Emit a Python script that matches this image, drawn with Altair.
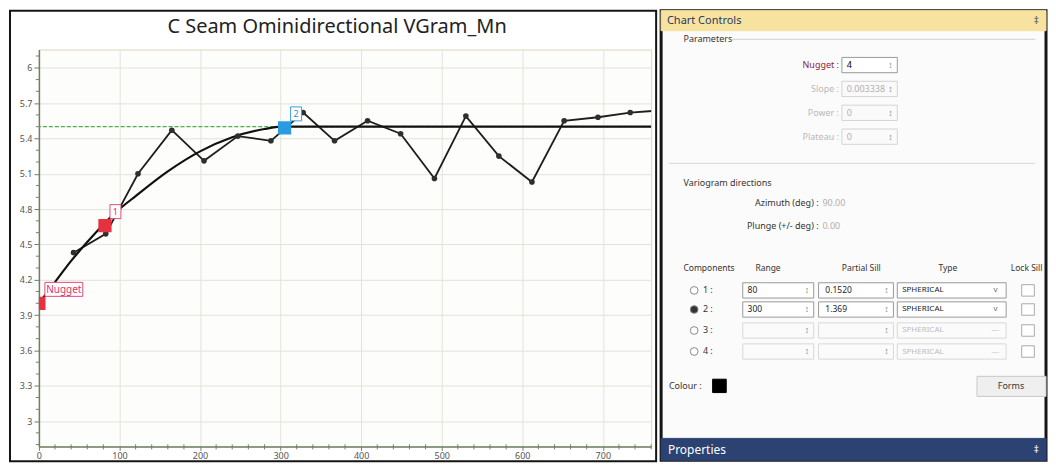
import altair as alt
import pandas as pd

# ---------------- data ----------------
title_text = "C Seam Ominidirectional VGram_Mn"

# experimental variogram (lag, gamma)
lag = [43, 83, 123, 165, 205, 247, 288, 328, 367, 408, 449, 491, 530, 571, 612, 652, 694, 734, 775]
gamma = [4.43, 4.59, 5.10, 5.47, 5.21, 5.42, 5.38, 5.62, 5.38, 5.55, 5.44, 5.06, 5.59, 5.25, 5.03, 5.55, 5.58, 5.62, 5.64]

# fitted model curve
model_lag = [0, 10, 20, 40, 60, 80, 100, 120, 160, 200, 240, 280, 300, 760]
model_gamma = [4.00, 4.09, 4.18, 4.36, 4.52, 4.67, 4.80, 4.91, 5.12, 5.29, 5.41, 5.48, 5.50, 5.50]

sample_variance = 5.50

struct_labels = ["Nugget", "1", "2"]
struct_lag = [0, 82, 305]
struct_gamma = [4.0, 4.66, 5.49]
struct_colors = ["#e5323f", "#e5323f", "#2b9be0"]

x_ticks = [0, 100, 200, 300, 400, 500, 600, 700]
y_ticks = [3.0, 3.3, 3.6, 3.9, 4.2, 4.5, 4.8, 5.1, 5.4, 5.7, 6.0]
x_minor = [v for v in range(0, 761, 20) if v % 100 != 0]
y_minor = [round(2.8 + 0.1 * i, 1) for i in range(34) if round((2.8 + 0.1 * i) * 10) % 3 != 0]
x_domain = [0, 760]
y_domain = [2.785, 6.155]

W, H = 614, 398
FONT = "Noto Sans"
AX = "#6f7f66"

exp_df = pd.DataFrame({"lag": lag, "gamma": gamma})
model_df = pd.DataFrame({"lag": model_lag, "gamma": model_gamma})
struct_df = pd.DataFrame({"lag": struct_lag, "gamma": struct_gamma,
                          "label": struct_labels, "col": struct_colors})
one = pd.DataFrame({"k": [0]})

xs = alt.Scale(domain=x_domain, nice=False, zero=False)
ys = alt.Scale(domain=y_domain, nice=False, zero=False)

x_axis = alt.Axis(values=x_ticks, title=None, grid=True, gridColor="#e3e3da",
                  labelFontSize=9, labelColor="#555", labelFont=FONT, tickSize=4,
                  tickColor=AX, domainColor=AX, domainWidth=1.5, labelPadding=1,
                  labelFlush=False)
y_axis = alt.Axis(values=y_ticks, format=".1~f", title=None, grid=True, gridColor="#e3e3da",
                  labelFontSize=9, labelColor="#555", labelFont=FONT, tickSize=5,
                  tickColor=AX, domainColor=AX, domainWidth=1.5, labelPadding=2)

X = alt.X("lag:Q", scale=xs, axis=x_axis)
Y = alt.Y("gamma:Q", scale=ys, axis=y_axis)

exp_line = alt.Chart(exp_df).mark_line(color="#1e1e1e", strokeWidth=1.8, clip=True).encode(x=X, y=Y)
exp_pts = alt.Chart(exp_df).mark_circle(size=32, color="#2e2e2e", opacity=1, clip=True).encode(x=X, y=Y)
model_line = alt.Chart(model_df).mark_line(color="#111", strokeWidth=2.2, interpolate="monotone",
                                           clip=True).encode(x=X, y=Y)
var_rule = alt.Chart(pd.DataFrame({"gamma": [sample_variance]})).mark_rule(
    color="#4cae4c", strokeDash=[4, 2], strokeWidth=1.3).encode(y=Y)

squares = alt.Chart(struct_df).mark_square(size=175, opacity=1, clip=True).encode(
    x=X, y=Y, color=alt.Color("col:N", scale=None))

box_specs = {
    "Nugget": ("M6,-21H44V-7H6Z", 25, "#d8346c", "#e24a7c"),
    "1": ("M5,-21H16V-7H5Z", 10.5, "#d8346c", "#e24a7c"),
    "2": ("M6,-21H17V-7H6Z", 11.5, "#2b8fd0", "#3aa0e0"),
}
label_layers = []
for name, (path, dx, tcol, bcol) in box_specs.items():
    d = struct_df[struct_df["label"] == name]
    label_layers.append(alt.Chart(d).mark_point(shape=path, size=4, filled=True, fill="white",
                                                stroke=bcol, strokeWidth=1, opacity=1).encode(x=X, y=Y))
    label_layers.append(alt.Chart(d).mark_text(text=name, dx=dx, dy=-13.5, fontSize=10 if name == "Nugget" else 9,
                                               font=FONT, color=tcol).encode(x=X, y=Y))

xminor = alt.Chart(pd.DataFrame({"lag": x_minor})).mark_rule(color=AX, strokeWidth=1).encode(
    x=X, y=alt.value(H - 2), y2=alt.value(H + 3))
yminor = alt.Chart(pd.DataFrame({"gamma": y_minor})).mark_rule(color=AX, strokeWidth=1).encode(
    y=Y, x=alt.value(-3), x2=alt.value(0))

frame = alt.Chart(one).mark_rect(fillOpacity=0, stroke="#151515", strokeWidth=2).encode(
    x=alt.value(-29), x2=alt.value(W + 5), y=alt.value(-39), y2=alt.value(H + 15))
title = alt.Chart(one).mark_text(text=title_text, fontSize=20, font=FONT, color="#222",
                                 baseline="middle").encode(x=alt.value(W / 2 - 8), y=alt.value(-23))

left = alt.layer(exp_line, frame, var_rule, model_line, exp_pts, squares, *label_layers,
                 xminor, yminor, title).properties(
    width=W, height=H, view=alt.ViewBackground(fill="#fdfdfb", stroke="#ddd6b8", strokeWidth=1))

# ---------------- right-hand control panel (static UI) ----------------
PW = 386
rects = [
    (660, 1056, 0, 21, "#f8e2a0", "#f8e2a0"),
    (846, 903, 49, 65, "#ffffff", "#9a9a9a"),
    (846, 903, 74, 90, "#fafafa", "#d4d4d4"),
    (846, 903, 99, 115, "#fafafa", "#d4d4d4"),
    (846, 903, 124, 140, "#fafafa", "#d4d4d4"),
    (713, 727, 386, 400, "#000000", "#000000"),
    (985, 1056, 383, 404, "#efefef", "#c8c8c8"),
    (660, 1056, 448, 471, "#2c4272", "#2c4272"),
]
row_y = [293, 313, 335, 357]
for i, yy in enumerate(row_y):
    f, s = ("#ffffff", "#9a9a9a") if i < 2 else ("#fbfbfb", "#d8d8d8")
    rects += [(744, 817, yy - 8, yy + 8, f, s), (822, 899, yy - 8, yy + 8, f, s),
              (903, 1015, yy - 8, yy + 8, f, s), (1031, 1044, yy - 6, yy + 6, "#ffffff", "#aaaaaa")]
rect_df = pd.DataFrame(rects, columns=["x1", "x2", "y1", "y2", "fill", "stroke"])

rules_df = pd.DataFrame([(733, 1045, 30, "#d0d0d0"), (668, 1045, 160, "#d8d8d8")],
                        columns=["x1", "x2", "y1", "col"])

texts_left = [
    ("Chart Controls", 666, 11, "#1e3a5f", 11),
    ("Parameters", 683, 30, "#333333", 9),
    ("4", 851, 57, "#000000", 9),
    ("0.003338", 851, 82, "#b0b0b0", 9),
    ("0", 851, 107, "#b0b0b0", 9),
    ("0", 851, 132, "#b0b0b0", 9),
    ("Variogram directions", 683, 181, "#333333", 9),
    ("90.00", 826, 201, "#b0b0b0", 9),
    ("0.00", 826, 226, "#b0b0b0", 9),
    ("Components", 683, 270, "#333333", 8.5),
    ("1 :", 703, 293, "#333333", 9), ("2 :", 703, 313, "#333333", 9),
    ("3 :", 703, 335, "#333333", 9), ("4 :", 703, 357, "#333333", 9),
    ("80", 749, 293, "#222222", 8.5), ("300", 749, 313, "#222222", 8.5),
    ("0.1520", 829, 293, "#222222", 8.5), ("1.369", 829, 313, "#222222", 8.5),
    ("SPHERICAL", 908, 293, "#222222", 8), ("SPHERICAL", 908, 313, "#222222", 8),
    ("SPHERICAL", 908, 335, "#bbbbbb", 8), ("SPHERICAL", 908, 357, "#bbbbbb", 8),
    ("Colour :", 668, 393, "#333333", 9),
    ("Properties", 667, 460, "#ffffff", 12),
]
texts_right = [
    ("Nugget :", 843, 57, "#8b1c3c", 9),
    ("Slope :", 843, 82, "#b8b8b8", 9),
    ("Power :", 843, 107, "#b8b8b8", 9),
    ("Plateau :", 843, 132, "#b8b8b8", 9),
    ("Azimuth (deg) :", 822, 201, "#333333", 9),
    ("Plunge (+/- deg) :", 822, 226, "#333333", 9),
]
texts_center = [
    ("Range", 770, 270, "#333333", 8.5), ("Partial Sill", 866, 270, "#333333", 8.5),
    ("Type", 955, 270, "#333333", 8.5), ("Lock Sill", 1036, 270, "#333333", 8.5),
    ("Forms", 1020, 393, "#333333", 9),
    ("\u2021", 1046, 11, "#555555", 10), ("\u2021", 1046, 460, "#ffffff", 10),
    ("v", 1004, 293, "#666666", 8), ("v", 1004, 313, "#666666", 8),
    ("\u2014", 1004, 335, "#cccccc", 8), ("\u2014", 1004, 357, "#cccccc", 8),
]
for yy in [57, 82, 107, 132]:
    texts_center.append(("\u2195", 896, yy, "#888888", 9))
for yy in row_y:
    texts_center.append(("\u2195", 810, yy, "#888888", 9))
    texts_center.append(("\u2195", 892, yy, "#888888", 9))
cols = ["t", "x", "y", "col", "size"]

psx = alt.Scale(domain=[660, 1056], range=[0, PW], nice=False, zero=False)
psy = alt.Scale(domain=[0, 471], range=[-39, H + 14], nice=False, zero=False)
PX = alt.X("x:Q", scale=psx, axis=None)
PY = alt.Y("y:Q", scale=psy, axis=None)
PX1 = alt.X("x1:Q", scale=psx, axis=None)
PY1 = alt.Y("y1:Q", scale=psy, axis=None)

p_bg = alt.Chart(one).mark_rect(fill="#fbfbfb", stroke="#151515", strokeWidth=3).encode(
    x=alt.value(0), x2=alt.value(PW), y=alt.value(-39), y2=alt.value(H + 14))
p_rects = alt.Chart(rect_df).mark_rect(strokeWidth=1).encode(
    x=PX1, x2="x2:Q", y=PY1, y2="y2:Q",
    fill=alt.Fill("fill:N", scale=None), stroke=alt.Stroke("stroke:N", scale=None))
p_rules = alt.Chart(rules_df).mark_rule(strokeWidth=1).encode(
    x=PX1, x2="x2:Q", y=PY1, color=alt.Color("col:N", scale=None))


def text_layer(rows, align):
    d = pd.DataFrame(rows, columns=cols)
    return alt.Chart(d).mark_text(align=align, baseline="middle", font=FONT).encode(
        x=PX, y=PY, text="t:N", color=alt.Color("col:N", scale=None),
        size=alt.Size("size:Q", scale=None))


radio_df = pd.DataFrame({"x": [694] * 4, "y": row_y,
                         "fill": ["#ffffff", "#333333", "#ffffff", "#ffffff"]})
p_radio = alt.Chart(radio_df).mark_point(shape="circle", size=60, filled=True, stroke="#888888",
                                         strokeWidth=1, opacity=1).encode(
    x=PX, y=PY, fill=alt.Fill("fill:N", scale=None))

right = alt.layer(p_bg, p_rects, p_rules, p_radio, text_layer(texts_left, "left"),
                  text_layer(texts_right, "right"), text_layer(texts_center, "center")).properties(
    width=PW, height=H, view=alt.ViewBackground(fill=None, stroke=None))

chart = alt.hconcat(left, right, spacing=1).properties(padding=0, background="white")
chart.save("out.html", embed_options={"renderer": "svg", "actions": False})
